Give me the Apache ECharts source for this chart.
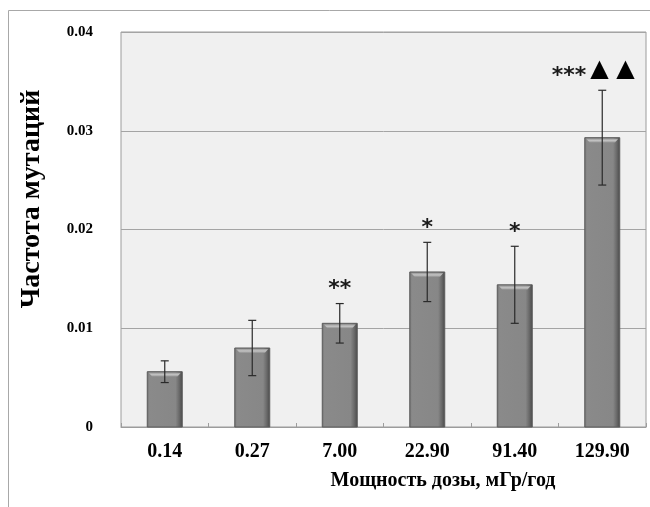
<!DOCTYPE html>
<html>
<head>
<meta charset="utf-8">
<script src="https://cdn.jsdelivr.net/npm/echarts@6/dist/echarts.min.js"></script>
<style>
  html, body { margin: 0; padding: 0; background: #fff; }
  #chart { width: 650px; height: 507px; }
</style>
</head>
<body>
<div id="chart"></div>
<script>
// Dose rates (mGy/year) on the category axis
const doseRates = ['0.14', '0.27', '7.00', '22.90', '91.40', '129.90'];
// Mean mutation frequency for each dose rate
const mutationFreq = [0.0056, 0.0080, 0.0105, 0.0157, 0.0144, 0.0293];
// Half-width of the error bar for each mean
const freqError = [0.0011, 0.0028, 0.0020, 0.0030, 0.0039, 0.0048];
// Significance marks written above the error bars
const significance = ['', '', '**', '*', '*', '***\u25B2 \u25B2'];
// Value-axis ticks
const yTicks = [0, 0.01, 0.02, 0.03, 0.04];

const serif = '"Liberation Serif", "Times New Roman", serif';

const chart = echarts.init(document.getElementById('chart'), null, { renderer: 'canvas' });

const barData = mutationFreq.map((v, i) => [i, v]);
const errData = mutationFreq.map((v, i) => [i, v - freqError[i], v + freqError[i]]);

function renderBar(params, api) {
  const i = api.value(0);
  const v = api.value(1);
  const top = api.coord([i, v]);
  const base = api.coord([i, 0]);
  const w = 35;
  const x = top[0] - w / 2;
  const y = top[1];
  const h = base[1] - top[1];
  return {
    type: 'group',
    children: [
      {
        type: 'rect',
        shape: { x: x, y: y, width: w, height: h },
        style: {
          fill: new echarts.graphic.LinearGradient(0, 0, 1, 0, [
            { offset: 0, color: '#6a6a6a' },
            { offset: 0.07, color: '#8a8a8a' },
            { offset: 0.8, color: '#878787' },
            { offset: 0.9, color: '#6a6a6a' },
            { offset: 1, color: '#474747' }
          ]),
          stroke: '#5c5c5c',
          lineWidth: 1
        }
      },
      {
        // bevelled top edge
        type: 'polygon',
        shape: {
          points: [
            [x + 1.5, y + 1], [x + w - 1.5, y + 1],
            [x + w - 5, y + 5], [x + 5, y + 5]
          ]
        },
        style: {
          fill: new echarts.graphic.LinearGradient(0, 0, 0, 1, [
            { offset: 0, color: '#9a9a9a' },
            { offset: 0.5, color: '#c4c4c4' },
            { offset: 1, color: '#8e8e8e' }
          ])
        }
      }
    ]
  };
}

// Asterisks and triangles get their own rich-text styles so they sit on one line
function markText(label) {
  return label
    .replace(/(\*+)/g, '{s|$1}')
    .replace(/([\u25B2 ]+)$/g, '{t|$1}');
}

function renderError(params, api) {
  const i = api.value(0);
  const lo = api.coord([i, api.value(1)]);
  const hi = api.coord([i, api.value(2)]);
  const label = significance[i];
  const cap = 4;
  const lineStyle = { stroke: '#2a2a2a', lineWidth: 1.2 };
  const children = [
    { type: 'line', shape: { x1: lo[0], y1: lo[1], x2: hi[0], y2: hi[1] }, style: lineStyle },
    { type: 'line', shape: { x1: hi[0] - cap, y1: hi[1], x2: hi[0] + cap, y2: hi[1] }, style: lineStyle },
    { type: 'line', shape: { x1: lo[0] - cap, y1: lo[1], x2: lo[0] + cap, y2: lo[1] }, style: lineStyle }
  ];
  if (label) {
    children.push({
      type: 'text',
      x: hi[0],
      y: hi[1] - 20,
      style: {
        text: markText(label),
        fill: '#111',
        align: 'center',
        verticalAlign: 'middle',
        rich: {
          s: {
            font: 'bold 22px "DejaVu Sans", sans-serif',
            fill: '#1a1a1a',
            padding: [12, 0, 0, 0]
          },
          t: {
            font: '24px "DejaVu Sans", sans-serif',
            fill: '#000',
            padding: [0, 18, 0, 4]
          }
        }
      }
    });
  }
  return { type: 'group', children: children };
}

chart.setOption({
  backgroundColor: '#ffffff',
  animation: false,
  grid: {
    left: 121, right: 4, top: 32, bottom: 80,
    show: true,
    backgroundColor: '#f0f0f0',
    borderColor: '#9c9c9c',
    borderWidth: 1
  },
  xAxis: {
    type: 'category',
    data: doseRates,
    boundaryGap: true,
    axisLine: { show: true, lineStyle: { color: '#9c9c9c', width: 1 } },
    axisTick: { show: true, inside: true, length: 4, lineStyle: { color: '#9c9c9c' } },
    axisLabel: {
      margin: 15,
      color: '#000',
      fontFamily: serif,
      fontWeight: 'bold',
      fontSize: 20
    }
  },
  yAxis: {
    type: 'value',
    min: yTicks[0],
    max: yTicks[yTicks.length - 1],
    interval: yTicks[1] - yTicks[0],
    axisLine: { show: false },
    axisTick: { show: false },
    splitLine: { show: true, lineStyle: { color: '#a4a4a4', width: 1 } },
    axisLabel: {
      margin: 28,
      color: '#000',
      fontFamily: serif,
      fontWeight: 'bold',
      fontSize: 15,
      formatter: v => (v === 0 ? '0' : v.toFixed(2))
    }
  },
  graphic: [
    {
      type: 'rect',
      z: -10,
      shape: { x: 8.5, y: 10.5, width: 700, height: 600 },
      style: { fill: 'none', stroke: '#a8a8a8', lineWidth: 1 }
    },
    {
      type: 'text',
      x: 32, y: 199,
      rotation: Math.PI / 2,
      style: {
        text: 'Частота мутаций',
        font: 'bold 28px ' + serif,
        fill: '#000',
        align: 'center',
        verticalAlign: 'middle'
      }
    },
    {
      type: 'text',
      x: 443, y: 481,
      style: {
        text: 'Мощность дозы, мГр/год',
        font: 'bold 20px ' + serif,
        fill: '#000',
        align: 'center',
        verticalAlign: 'middle'
      }
    }
  ],
  series: [
    {
      name: 'Частота мутаций',
      type: 'custom',
      renderItem: renderBar,
      data: barData,
      encode: { x: 0, y: 1 },
      z: 2
    },
    {
      name: 'Ошибка',
      type: 'custom',
      renderItem: renderError,
      data: errData,
      encode: { x: 0, y: [1, 2] },
      z: 3
    }
  ]
});
</script>
</body>
</html>
